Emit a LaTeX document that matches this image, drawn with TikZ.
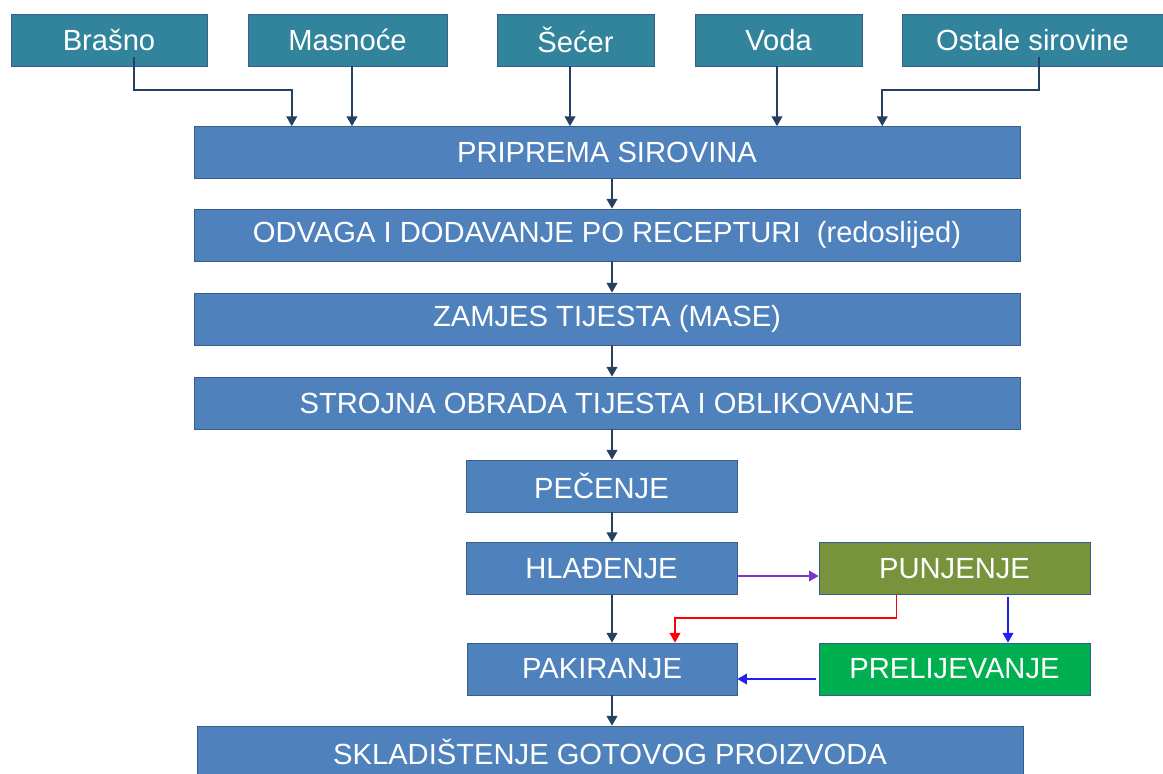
\documentclass[tikz,border=0pt]{standalone}
\usepackage{fontspec}
\setmainfont{Liberation Sans}
\usetikzlibrary{arrows.meta,calc}
\definecolor{tealbox}{HTML}{31849B}
\definecolor{stepblue}{HTML}{4F81BD}
\definecolor{stepline}{HTML}{385D8A}
\definecolor{arrowdark}{HTML}{254061}
\definecolor{olivebox}{HTML}{77933C}
\definecolor{greenbox}{HTML}{00B050}
\definecolor{flowpurple}{HTML}{7A35D0}
\definecolor{flowblue}{HTML}{2020F0}
\tikzstyle{inbox} = [draw=stepline,fill=tealbox,text=white,rectangle,
  inner sep=0pt,minimum height=1.04cm,font=\fontsize{16.6}{19}\selectfont]
\tikzstyle{stepbox} = [inbox,fill=stepblue]
\tikzstyle{feed} = [draw=arrowdark,line width=1pt,-{Triangle[length=5.5pt,width=6pt]}]

\begin{document}
\begin{tikzpicture}[x=0.02cm,y=-0.02cm]
    \useasboundingbox (0,0) rectangle (1163,774);
    % raw materials
    \node [inbox,minimum width=3.92cm] (brasno) at (109,40) {Brašno};
    \node [inbox,minimum width=3.98cm] (masnoce) at (347.5,40) {Masnoće};
    \node [inbox,minimum width=3.14cm] (secer) at (575.5,40) {Šećer};
    \node [inbox,minimum width=3.34cm] (voda) at (778.5,40) {Voda};
    \node [inbox,minimum width=5.22cm] (ostale) at (1032.5,40) {Ostale sirovine};
    % process steps
    \node [stepbox,minimum width=16.52cm] (priprema) at (607,152.5) {PRIPREMA SIROVINA};
    \node [stepbox,minimum width=16.52cm] (odvaga) at (607,235) {ODVAGA I DODAVANJE PO RECEPTURI \ (redoslijed)\hspace{10pt}};
    \node [stepbox,minimum width=16.52cm] (zamjes) at (607,319) {ZAMJES TIJESTA (MASE)};
    \node [stepbox,minimum width=16.52cm] (strojna) at (607,403) {STROJNA OBRADA TIJESTA I OBLIKOVANJE};
    \node [stepbox,minimum width=5.42cm] (pecenje) at (601.5,486) {PEČENJE};
    \node [stepbox,minimum width=5.42cm] (hladenje) at (601.5,568.5) {HLAĐENJE};
    \node [stepbox,minimum width=5.42cm,fill=olivebox] (punjenje) at (954.5,568.5) {PUNJENJE};
    \node [stepbox,minimum width=5.40cm] (pakiranje) at (602,669) {PAKIRANJE};
    \node [stepbox,minimum width=5.42cm,fill=greenbox] (prelijevanje) at (954.5,669) {PRELIJEVANJE};
    \node [stepbox,minimum width=16.52cm] (skladistenje) at (610,752) {SKLADIŠTENJE GOTOVOG PROIZVODA};
    % feeding arrows
    \draw [feed] ($(brasno.south)+(25,-9)$) -- ++(0,33) -| ($(priprema.north west)+(98,0)$);
    \draw [feed] ($(masnoce.south)+(4.5,0)$) coordinate (m) -- (m |- priprema.north);
    \draw [feed] ($(secer.south)+(-5.5,0)$) coordinate (s) -- (s |- priprema.north);
    \draw [feed] ($(voda.south)+(-1.5,0)$) coordinate (v) -- (v |- priprema.north);
    \draw [feed] ($(ostale.south)+(6.5,-9)$) -- ++(0,33) -| ($(priprema.north east)+(-138,0)$);
    % main line
    \coordinate (ax) at (612,0);
    \draw [feed] (priprema.south -| ax) -- (odvaga.north -| ax);
    \draw [feed] (odvaga.south -| ax) -- (zamjes.north -| ax);
    \draw [feed] (zamjes.south -| ax) -- (strojna.north -| ax);
    \draw [feed] (strojna.south -| ax) -- (pecenje.north -| ax);
    \draw [feed] (pecenje.south -| ax) -- (hladenje.north -| ax);
    \draw [feed] (hladenje.south -| ax) -- (pakiranje.north -| ax);
    \draw [feed] (pakiranje.south -| ax) -- (skladistenje.north -| ax);
    % side branch
    \draw [feed,draw=flowpurple] ($(hladenje.east)+(0,7.5)$) -- ($(punjenje.west)+(0,7.5)$);
    \draw [feed,draw=red] ($(punjenje.south)+(-58,0)$) -- ++(0,23) -| ($(pakiranje.north)+(73,0)$);
    \draw [feed,draw=flowblue] ($(punjenje.south)+(53.5,2)$) -- ($(prelijevanje.north)+(53.5,0)$);
    \draw [feed,draw=flowblue] ($(prelijevanje.west)+(-3,10)$) -- ($(pakiranje.east)+(0,10)$);
  \end{tikzpicture}
\end{document}
